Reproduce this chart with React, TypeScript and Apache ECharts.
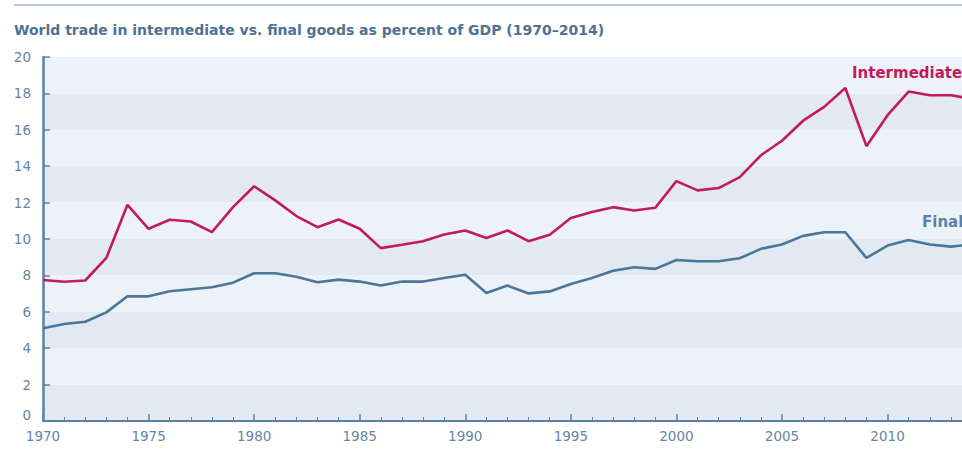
import React, { useEffect, useRef } from "react";
import * as echarts from "echarts";

const years: number[] = [
  1970, 1971, 1972, 1973, 1974, 1975, 1976, 1977, 1978, 1979,
  1980, 1981, 1982, 1983, 1984, 1985, 1986, 1987, 1988, 1989,
  1990, 1991, 1992, 1993, 1994, 1995, 1996, 1997, 1998, 1999,
  2000, 2001, 2002, 2003, 2004, 2005, 2006, 2007, 2008, 2009,
  2010, 2011, 2012, 2013, 2014,
];

const intermediate: number[] = [
  7.75, 7.65, 7.72, 8.96, 11.88, 10.56, 11.06, 10.96, 10.38, 11.75,
  12.9, 12.12, 11.26, 10.65, 11.07, 10.56, 9.5, 9.68, 9.88, 10.25,
  10.47, 10.06, 10.47, 9.88, 10.23, 11.15, 11.48, 11.75, 11.57, 11.72,
  13.18, 12.67, 12.8, 13.4, 14.6, 15.4, 16.5, 17.26, 18.3, 15.1,
  16.8, 18.1, 17.9, 17.9, 17.7,
];

const finalGoods: number[] = [
  5.1, 5.33, 5.45, 5.97, 6.85, 6.85, 7.13, 7.24, 7.35, 7.6,
  8.12, 8.12, 7.93, 7.62, 7.77, 7.66, 7.44, 7.66, 7.66, 7.86,
  8.04, 7.03, 7.44, 7.01, 7.12, 7.53, 7.86, 8.26, 8.45, 8.36,
  8.85, 8.78, 8.78, 8.94, 9.46, 9.7, 10.17, 10.37, 10.37, 8.96,
  9.64, 9.95, 9.7, 9.58, 9.7,
];

const titleText = "World trade in intermediate vs. final goods as percent of GDP (1970–2014)";
const seriesNames = ["Intermediate", "Final"];

const FONT = "'DejaVu Sans', 'Open Sans', sans-serif";
const BLUE = "#4a7699";
const RED = "#c21a5b";
const LABEL = "#6785a2";
const AXIS = "#5b80a3";

export default function App() {
  const ref = useRef<HTMLDivElement>(null);

  useEffect(() => {
    document.body.style.margin = "0";
    if (!ref.current) return;
    const chart = echarts.init(ref.current, null, { renderer: "svg" });
    const option = {
      animation: false,
      backgroundColor: "#ffffff",
      grid: {
        left: 43,
        right: -10,
        top: 57,
        bottom: 47,
        containLabel: false,
        outerBoundsMode: "none",
      },
      xAxis: {
        type: "value",
        min: 1970,
        max: 2014,
        interval: 5,
        axisLine: { show: true, onZero: false, lineStyle: { color: AXIS, width: 2 } },
        axisTick: { show: true, inside: true, length: 7, lineStyle: { color: AXIS, width: 1.5 } },
        minorTick: { show: true, splitNumber: 5, length: 4, lineStyle: { color: AXIS, width: 1 } },
        splitLine: { show: false },
        axisLabel: {
          color: LABEL,
          fontFamily: FONT,
          fontSize: 13.5,
          margin: 8,
          showMaxLabel: false,
          formatter: (v: number) => String(v),
        },
      },
      yAxis: {
        type: "value",
        min: 0,
        max: 20,
        interval: 2,
        axisLine: { show: true, lineStyle: { color: AXIS, width: 2.5 } },
        axisTick: { show: true, inside: true, length: 7, lineStyle: { color: AXIS, width: 1.5 } },
        splitLine: { show: false },
        splitArea: { show: true, areaStyle: { color: ["#e2e9f2", "#edf2f8"] } },
        axisLabel: {
          color: LABEL,
          fontFamily: FONT,
          fontSize: 13.5,
          margin: 12,
          formatter: (v: number) => (v === 0 ? "{z|0}" : String(v)),
          rich: {
            z: { color: LABEL, fontFamily: FONT, fontSize: 13.5, padding: [0, 0, 12, 0] },
          },
        },
      },
      series: [
        {
          name: seriesNames[0],
          type: "line",
          data: years.map((y, i) => [y, intermediate[i]]),
          showSymbol: false,
          lineStyle: { color: RED, width: 2.6 },
          itemStyle: { color: RED },
          clip: true,
        },
        {
          name: seriesNames[1],
          type: "line",
          data: years.map((y, i) => [y, finalGoods[i]]),
          showSymbol: false,
          lineStyle: { color: BLUE, width: 2.6 },
          itemStyle: { color: BLUE },
          clip: true,
        },
      ],
      graphic: [
        {
          type: "line",
          z: 100,
          shape: { x1: 14, y1: 5, x2: 962, y2: 5 },
          style: { stroke: "#b6c6d6", lineWidth: 2 },
        },
        {
          type: "text",
          z: 100,
          x: 14,
          y: 30,
          style: {
            text: titleText,
            fill: "#4d7294",
            font: `700 14px ${FONT}`,
            verticalAlign: "middle",
          },
        },
        {
          type: "text",
          z: 100,
          x: 852,
          y: 73,
          style: {
            text: seriesNames[0],
            fill: RED,
            font: `700 15px ${FONT}`,
            verticalAlign: "middle",
          },
        },
        {
          type: "text",
          z: 100,
          x: 922,
          y: 222,
          style: {
            text: seriesNames[1],
            fill: "#5a82a5",
            font: `700 15px ${FONT}`,
            verticalAlign: "middle",
          },
        },
      ],
    };
    chart.setOption(option as any);
    return () => chart.dispose();
  }, []);

  return <div ref={ref} style={{ width: 962, height: 468 }} />;
}
